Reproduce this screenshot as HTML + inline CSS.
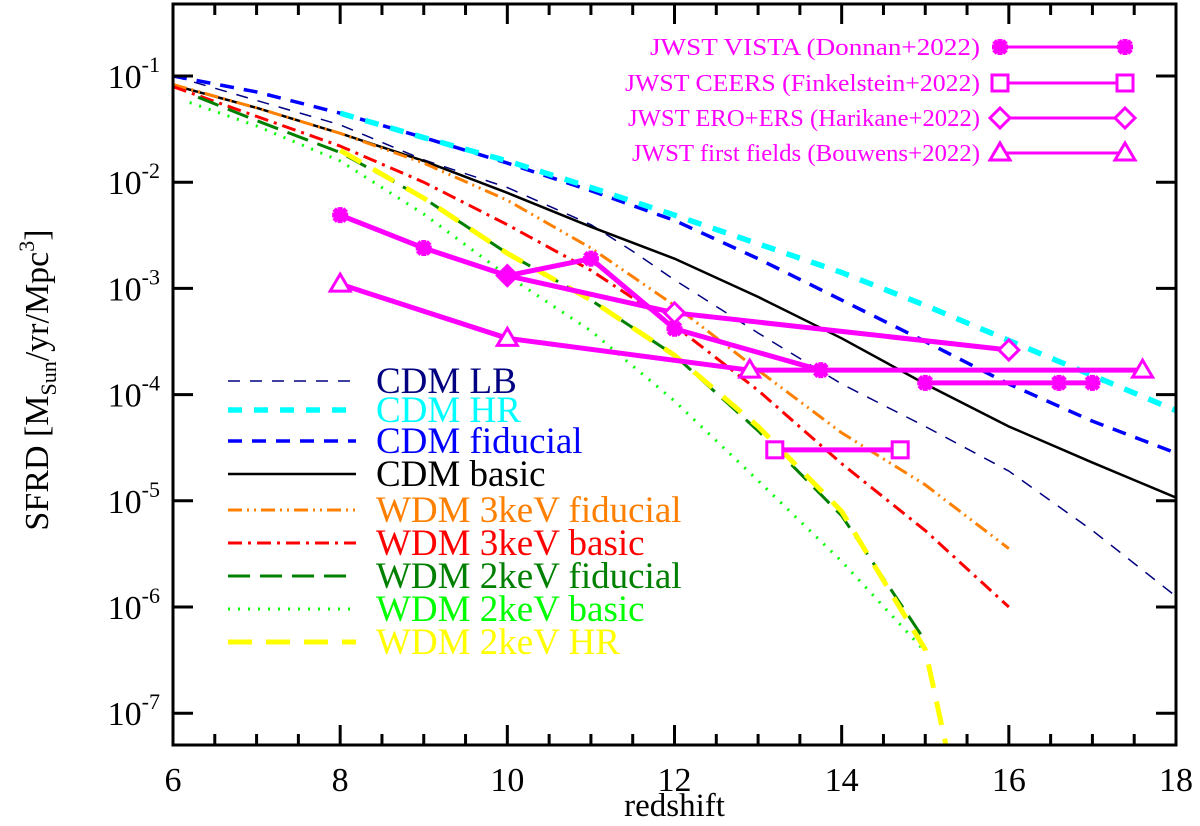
<!DOCTYPE html>
<html><head><meta charset="utf-8"><style>
body{margin:0;background:#fff}
svg{display:block;font-family:"Liberation Serif",serif}
</style></head><body>
<svg id="c" width="1200" height="826"></svg>
<script>
const zLB=[6,7,8,9,10,11,11.5,12,13,14,15,16,17,18];
const vLB=[-1.0,-1.23,-1.46,-1.79,-2.05,-2.4,-2.65,-2.92,-3.42,-3.9,-4.3,-4.72,-5.28,-5.9];
const zHR=[8,9,10,11,12,13,14,15,16,17,18];
const vHR=[-1.35,-1.58,-1.8,-2.05,-2.31,-2.58,-2.85,-3.16,-3.49,-3.82,-4.15];
const zFid=[6,7,8,9,10,11,12,13,14,15,16,17,18];
const vFid=[-1.0,-1.15,-1.35,-1.58,-1.82,-2.08,-2.36,-2.72,-3.11,-3.5,-3.9,-4.25,-4.55];
const zBas=[6,7,8,9,10,11,12,13,14,15,16,17,18];
const vBas=[-1.085,-1.3,-1.54,-1.8,-2.1,-2.42,-2.72,-3.08,-3.47,-3.9,-4.3,-4.64,-4.97];
const zW3F=[6,7,8,9,10,11,12,13,14,15,16];
const vW3F=[-1.08,-1.3,-1.54,-1.82,-2.17,-2.62,-3.16,-3.77,-4.36,-4.85,-5.45];
const zW3B=[6,7,8,9,10,11,12,13,14,15,16];
const vW3B=[-1.1,-1.38,-1.66,-2.0,-2.4,-2.83,-3.35,-3.96,-4.65,-5.28,-6.0];
const zW2F=[6.3,7,8,9,10,11,12,13,14,15];
const vW2F=[-1.2,-1.42,-1.72,-2.15,-2.67,-3.11,-3.63,-4.34,-5.14,-6.32];
const zW2B=[6.2,7,8,9,10,11,12,13,14,15];
const vW2B=[-1.25,-1.47,-1.8,-2.3,-2.88,-3.4,-4.06,-4.81,-5.57,-6.42];
const zW2H=[8,9,10,11,12,13,14,15,15.25];
const vW2H=[-1.7,-2.15,-2.67,-3.11,-3.63,-4.3,-5.1,-6.4,-7.31];
const zDon1=[8,9,10,11,12,13.75];
const vDon1=[-2.31,-2.62,-2.88,-2.72,-3.38,-3.77];
const zDon2=[15,16.6,17];
const vDon2=[-3.89,-3.89,-3.89];
const zHar=[10,12,16];
const vHar=[-2.88,-3.23,-3.58];
const zBou=[8,10,12.9,17.6];
const vBou=[-2.96,-3.47,-3.77,-3.77];
const zFin=[13.2,14.7];
const vFin=[-4.52,-4.52];
const yTickExp=[-1,-2,-3,-4,-5,-6,-7];
const xTicks=[6,8,10,12,14,16,18];

const NS="http://www.w3.org/2000/svg";
const svg=document.getElementById('c');
const L=173,R=1176,T=4,B=745;
const X=z=>L+(z-6)*(R-L)/12;
const Y=v=>76+(-1-v)*106.2;
function mk(tag,a,parent){const e=document.createElementNS(NS,tag);for(const k in a)e.setAttribute(k,a[k]);(parent||svg).appendChild(e);return e;}
const defs=mk('defs',{});const cp=mk('clipPath',{id:'clip'},defs);mk('rect',{x:L,y:T,width:R-L,height:B-T},cp);
const gData=mk('g',{'clip-path':'url(#clip)'});


function line(zs,vs,col,w,dash,name){const p=mk('polyline',{points:zs.map((z,i)=>X(z)+','+Y(vs[i])).join(' '),fill:'none',stroke:col,'stroke-width':w,'stroke-dasharray':dash||'none','stroke-linejoin':'round'},gData);

return p;}
const series=[
[zLB,vLB,'#000080',1.5,'12 10','cdm-lb-line'],
[zFid,vFid,'#0000ff',3.5,'14 10','cdm-fiducial-line'],
[zHR,vHR,'#00ffff',5.5,'14 12','cdm-hr-line'],
[zBas,vBas,'#000',2.5,'','cdm-basic-line'],
[zW3F,vW3F,'#ff8000',3,'14 5 2 5 2 5','wdm3-fiducial-line'],
[zW3B,vW3B,'#ff0000',3,'14 6 3 6','wdm3-basic-line'],
[zW2F,vW2F,'#008000',3,'22 10','wdm2-fiducial-line'],
[zW2B,vW2B,'#00ff00',3,'2 8','wdm2-basic-line'],
[zW2H,vW2H,'#ffff00',5,'24 14','wdm2-hr-line']];
series.forEach(s=>line(...s));
const M='#ff00ff';
function marker(type,x,y,g){let e;
 if(type==='ast'){e=mk('g',{},g);[[-8,0,8,0],[0,-8,0,8],[-6,-6,6,6],[-6,6,6,-6]].forEach(l=>mk('line',{x1:x+l[0],y1:y+l[1],x2:x+l[2],y2:y+l[3],stroke:M,'stroke-width':5},e));}
 else if(type==='sq')e=mk('rect',{x:x-8,y:y-8,width:16,height:16,fill:'#fff',stroke:M,'stroke-width':3},g);
 else if(type==='dia')e=mk('polygon',{points:`${x},${y-10} ${x+10},${y} ${x},${y+10} ${x-10},${y}`,fill:'#fff',stroke:M,'stroke-width':3},g);
 else e=mk('polygon',{points:`${x},${y-10} ${x+10},${y+7} ${x-10},${y+7}`,fill:'#fff',stroke:M,'stroke-width':3},g);
 
 }
function obs(zs,vs,type,name){line(zs,vs,M,5,'',name);zs.forEach((z,i)=>marker(type,X(z),Y(vs[i]),gData));}
obs(zHar,vHar,'dia','harikane-series');
obs(zBou,vBou,'tri','bouwens-series');
obs(zFin,vFin,'sq','finkelstein-series');
obs(zDon1,vDon1,'ast','donnan-series');
obs(zDon2,vDon2,'ast','donnan-series-high-z');
const fr=mk('rect',{x:L,y:T,width:R-L,height:B-T,fill:'none',stroke:'#000','stroke-width':3});


for(let z=6;z<=18;z+=0.5){const maj=z%2===0;const len=maj?20:11;
 mk('line',{x1:X(z),y1:B,x2:X(z),y2:B-len,stroke:'#000','stroke-width':3});
 mk('line',{x1:X(z),y1:T,x2:X(z),y2:T+len,stroke:'#000','stroke-width':3});}
xTicks.forEach(z=>{const t=mk('text',{x:X(z),y:791,'font-size':34,'text-anchor':'middle'});t.textContent=z;
 
 });
yTickExp.forEach(e=>{const y=Y(e);
 mk('line',{x1:L,y1:y,x2:L+20,y2:y,stroke:'#000','stroke-width':3});
 mk('line',{x1:R,y1:y,x2:R-20,y2:y,stroke:'#000','stroke-width':3});
 const t=mk('text',{x:160,y:y+12,'font-size':34,'text-anchor':'end'});
 t.innerHTML='10<tspan dy="-16" font-size="22">'+e+'</tspan>';
 
 });
const xt=mk('text',{x:(L+R)/2,y:816,'font-size':33,'text-anchor':'middle'});xt.textContent='redshift';


const yt=mk('text',{x:0,y:0,'font-size':34,'text-anchor':'middle',transform:'translate(48,380) rotate(-90)'});
yt.innerHTML='SFRD [M<tspan dy="8" font-size="22">Sun</tspan><tspan dy="-8">/yr/Mpc</tspan><tspan dy="-14" font-size="22">3</tspan><tspan dy="14">]</tspan>';


const legNames=['CDM LB','CDM HR','CDM fiducial','CDM basic','WDM 3keV fiducial','WDM 3keV basic','WDM 2keV fiducial','WDM 2keV basic','WDM 2keV HR'];
const legY=[381,410,441,474,510,543,576,609,642];
const legS=[0,2,1,3,4,5,6,7,8];
legNames.forEach((n,i)=>{const s=series[legS[i]];const g=mk('g',{});
 
 
 mk('line',{x1:228,y1:legY[i],x2:356,y2:legY[i],stroke:s[2],'stroke-width':s[3],'stroke-dasharray':s[4]||'none'},g);
 const t=mk('text',{x:376,y:legY[i]+12,'font-size':37,fill:s[2]},g);t.textContent=n;});
const obsNames=['JWST VISTA (Donnan+2022)','JWST CEERS (Finkelstein+2022)','JWST ERO+ERS (Harikane+2022)','JWST first fields (Bouwens+2022)'];
const obsT=['ast','sq','dia','tri'];
const obsY=[47,83,118,153];
const obsW=[330,355,352,348];
obsNames.forEach((n,i)=>{const g=mk('g',{});
 
 
 const t=mk('text',{x:980,y:obsY[i]+8,'font-size':24,fill:M,'text-anchor':'end',textLength:obsW[i],lengthAdjust:'spacingAndGlyphs'},g);t.textContent=n;
 mk('line',{x1:1000,y1:obsY[i],x2:1125,y2:obsY[i],stroke:M,'stroke-width':3},g);
 marker(obsT[i],1000,obsY[i],g);marker(obsT[i],1125,obsY[i],g);});
</script>
</body></html>
